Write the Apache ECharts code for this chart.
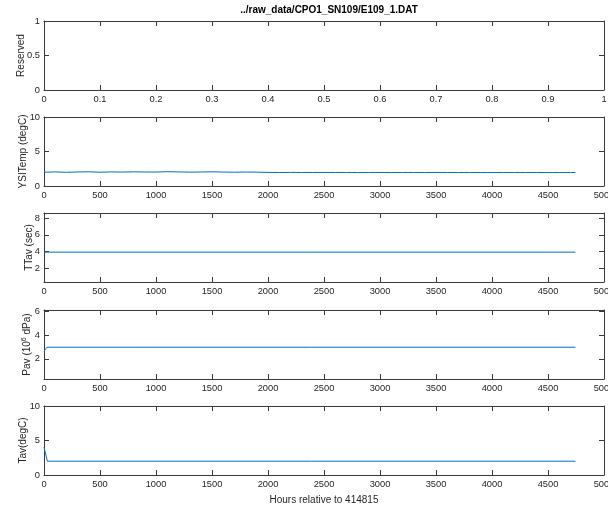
<!DOCTYPE html>
<html>
<head>
<meta charset="utf-8">
<script src="https://cdn.jsdelivr.net/npm/echarts@6/dist/echarts.min.js"></script>
<style>
  html, body { margin: 0; padding: 0; background: #fff; }
  #chart { width: 608px; height: 508px; }
</style>
</head>
<body>
<div id="chart"></div>
<script>
  // data
  const titleText = '../raw_data/CPO1_SN109/E109_1.DAT'
  const xLabel = 'Hours relative to 414815'
  const yLabels = ['Reserved', 'YSITemp (degC)', 'TTav (sec)', '{a|Pav (10}{s|6}{a| dPa)}', 'Tav(degC)']

  const ysiHours = [0, 100, 200, 300, 400, 500, 600, 700, 800, 900, 1000, 1100, 1200, 1300, 1400, 1500,
    1600, 1700, 1800, 1900, 2000, 2100, 2200, 2300, 2400, 2500, 2600, 2700, 2800, 2900, 3000, 3100,
    3200, 3300, 3400, 3500, 3600, 3700, 3800, 3900, 4000, 4100, 4200, 4300, 4400, 4500, 4600, 4700, 4745]
  const ysiTemp = [2.0, 2.04, 1.99, 2.03, 2.06, 2.0, 2.04, 2.02, 2.05, 2.03, 2.02, 2.07, 2.04, 2.01, 2.03, 2.06,
    2.02, 2.0, 2.02, 2.01, 1.97, 1.96, 1.97, 1.96, 1.96, 1.97, 1.96, 1.96, 1.95, 1.96, 1.96, 1.95,
    1.96, 1.96, 1.95, 1.97, 1.96, 1.95, 1.96, 1.95, 1.95, 1.96, 1.95, 1.95, 1.96, 1.95, 1.95, 1.95, 1.95]
  const ttavHours = [0, 4745]
  const ttav = [3.95, 3.95]
  const pavHours = [0, 12, 27, 4745]
  const pav = [2.6, 2.8, 2.97, 2.97]
  const tavHours = [0, 30, 4745]
  const tav = [4.05, 2.0, 2.0]

  const yMin = [0, 0, 0.4, 0.3, 0]
  const yMax = [1, 10, 8.6, 6.1, 10]
  const yStep = [0.5, 5, 2, 2, 5]
  const xMax = [1, 5000, 5000, 5000, 5000]
  const xStep = [0.1, 500, 500, 500, 500]

  // layout / style
  const axisColor = '#3a3a3a'
  const textColor = '#262626'
  const lineColor = '#0072BD'
  const font = 'Liberation Sans'
  const tickFont = 9.3
  const nameFont = 10
  const gridTops = [21, 117, 213, 310, 406]
  const gridHeight = 69
  const nameGaps = [18, 16, 10, 10, 16]
  const ySplit = [2, 2, 4, 3, 2]

  const pairs = (xs, ys) => xs.map((x, i) => [x, ys[i]])
  const fmt = v => String(Math.round(v * 1000) / 1000)

  const grids = []
  const xAxes = []
  const yAxes = []
  gridTops.forEach((top, i) => {
    grids.push({ left: 44, right: 4, top: top, height: gridHeight, containLabel: false, outerBoundsMode: 'none' })
    ;['bottom', 'top'].forEach(pos => {
      xAxes.push({
        type: 'value', gridIndex: i, position: pos,
        min: 0, max: xMax[i], interval: xStep[i],
        axisLine: { show: true, onZero: false, lineStyle: { color: axisColor, width: 1 } },
        axisTick: { show: true, inside: true, length: 5, lineStyle: { color: axisColor } },
        axisLabel: { show: pos === 'bottom', color: textColor, fontSize: tickFont, margin: 5, fontFamily: font,
          formatter: fmt, hideOverlap: false },
        splitLine: { show: false },
        name: (i === 4 && pos === 'bottom') ? xLabel : '',
        nameLocation: 'middle', nameGap: 20, nameMoveOverlap: false,
        nameTextStyle: { color: textColor, fontSize: nameFont, fontFamily: font }
      })
    })
    ;['left', 'right'].forEach(pos => {
      const ax = {
        type: 'value', gridIndex: i, position: pos,
        min: yMin[i], max: yMax[i],
        axisLine: { show: true, onZero: false, lineStyle: { color: axisColor, width: 1 } },
        axisTick: { show: true, inside: true, length: 5, lineStyle: { color: axisColor } },
        axisLabel: { show: pos === 'left', color: textColor, fontSize: tickFont, margin: 4, fontFamily: font,
          formatter: fmt, hideOverlap: false,
          showMinLabel: yMin[i] === 0, showMaxLabel: yMin[i] === 0 },
        splitLine: { show: false },
        name: pos === 'left' ? yLabels[i] : '',
        nameLocation: 'middle', nameGap: nameGaps[i], nameRotate: 90, nameMoveOverlap: false,
        nameTextStyle: {
          color: textColor, fontSize: nameFont, fontFamily: font,
          rich: {
            a: { color: textColor, fontSize: nameFont, fontFamily: font },
            s: { color: textColor, fontSize: 7, fontFamily: font, padding: [0, 0, 6, 0] }
          }
        }
      }
      if (yMin[i] === 0) ax.interval = yStep[i]
      else ax.splitNumber = ySplit[i]
      yAxes.push(ax)
    })
  })

  const mkLine = (idx, data) => ({
    type: 'line', xAxisIndex: idx * 2, yAxisIndex: idx * 2, data: data,
    showSymbol: false, symbol: 'none', lineStyle: { color: lineColor, width: 1 }, silent: true
  })

  const myChart = echarts.init(document.getElementById('chart'))
  const option = {
    animation: false,
    backgroundColor: '#fff',
    title: {
      text: titleText, left: 324, top: 0, textAlign: 'center',
      textStyle: { color: '#000', fontSize: 10, fontWeight: 'bold', fontFamily: font }
    },
    grid: grids,
    xAxis: xAxes,
    yAxis: yAxes,
    series: [
      mkLine(1, pairs(ysiHours, ysiTemp)),
      mkLine(2, pairs(ttavHours, ttav)),
      mkLine(3, pairs(pavHours, pav)),
      mkLine(4, pairs(tavHours, tav))
    ]
  }
  myChart.setOption(option)
</script>
</body>
</html>
